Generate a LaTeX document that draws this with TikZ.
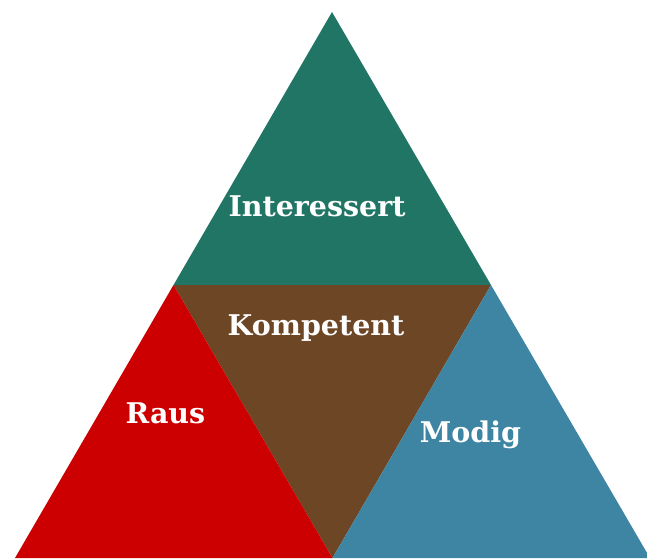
\documentclass[tikz,border=0pt]{standalone}
\usepackage{fontspec}
\setmainfont{DejaVu Serif}
\usepackage{tikz}

\definecolor{tealgreen}{RGB}{33,117,101}
\definecolor{brownmid}{RGB}{109,70,38}
\definecolor{redleft}{RGB}{204,0,0}
\definecolor{blueright}{RGB}{62,132,163}

\begin{document}
\begin{tikzpicture}[x=1pt,y=-1pt,
    label/.style={text=white,font=\bfseries\fontsize{28.5}{32}\selectfont,anchor=base,inner sep=0pt}]
\useasboundingbox (0,0) rectangle (647,558);

\coordinate (top) at (332,12);
\coordinate (left) at (15,558);
\coordinate (right) at (650,558);
\coordinate (midleft) at (173.5,285);
\coordinate (midright) at (491,285);
\coordinate (midbottom) at (332.5,558);

\fill [tealgreen] (top) -- (midleft) -- (midright) -- cycle;
\fill [brownmid] (midleft) -- (midright) -- (midbottom) -- cycle;
\fill [redleft] (midleft) -- (left) -- (midbottom) -- cycle;
\fill [blueright] (midright) -- (midbottom) -- (right) -- cycle;

\node [label] (interested) at (317,216) {Interessert};
\node [label] (competent) at (316,335) {Kompetent};
\node [label] (out) at (165.5,423) {Raus};
\node [label] (brave) at (470.5,442) {Modig};
\end{tikzpicture}
\end{document}
